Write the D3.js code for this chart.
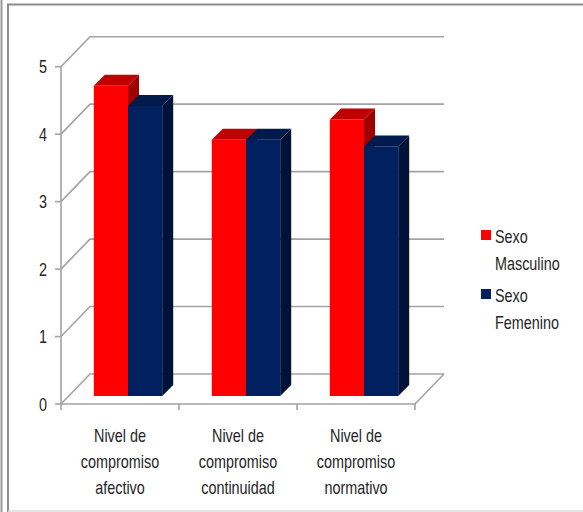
<!DOCTYPE html>
<html>
<head>
<meta charset="utf-8">
<script src="https://cdn.jsdelivr.net/npm/d3@7"></script>
<style>
	body { margin: 0; background: #fff; }
	svg text { font-family: "Liberation Sans", Arial, sans-serif; fill: #262626; }
</style>
</head>
<body>
<div id="chart"></div>
<script>
//////////
// DATA //
//////////
var categories = [
	["Nivel de", "compromiso", "afectivo"],
	["Nivel de", "compromiso", "continuidad"],
	["Nivel de", "compromiso", "normativo"]
];
var seriesNames = ["Sexo Masculino", "Sexo Femenino"];
var masculino = [4.6, 3.8, 4.1];
var femenino = [4.3, 3.8, 3.7];
var yTicks = [0, 1, 2, 3, 4, 5];

/////////////////
// "CONSTANTS" //
/////////////////
var WIDTH = 583;
var HEIGHT = 512;
var AXIS_X0 = 61;
var AXIS_X1 = 415;
var AXIS_Y0 = 404;
var AXIS_Y1 = 66.7;
var DEPTH_X = 29;
var DEPTH_Y = 30;
var BAR_OFF = 8;
var BAR_DEPTH = 11;
var GRID_COLOR = "#a3a3a3";
var FONT_SIZE = 18;
var TEXT_SQUEEZE = 0.8; // narrow, Calibri-like look
var COLORS = [
	{front: "#ff0000", top: "#c00000", side: "#a00000"},
	{front: "#00205f", top: "#001a4c", side: "#001238"}
];

var svg = d3.select("#chart").append("svg")
	.attr("width", WIDTH)
	.attr("height", HEIGHT);

// frame
svg.append("line").attr("x1", 1.5).attr("y1", 0).attr("x2", 1.5).attr("y2", HEIGHT)
	.attr("stroke", "#999").attr("stroke-width", 2);
svg.append("path").attr("d", "M" + WIDTH + ",4.5 H8 V" + HEIGHT)
	.attr("fill", "none").attr("stroke", "#8c8c8c").attr("stroke-width", 2);
svg.append("line").attr("x1", 8).attr("y1", 511).attr("x2", WIDTH).attr("y2", 511)
	.attr("stroke", "#ddd").attr("stroke-width", 1.5);

var y = d3.scaleLinear().domain([0, 5]).range([AXIS_Y0, AXIS_Y1]);
var x = d3.scaleBand().domain(d3.range(categories.length)).range([AXIS_X0, AXIS_X1]);
var xs = d3.scaleBand().domain(d3.range(seriesNames.length)).range([0, x.bandwidth()])
	.paddingInner(0).paddingOuter(0.725);

var grid = svg.append("g")
	.attr("stroke", GRID_COLOR)
	.attr("stroke-width", 1.6)
	.attr("fill", "none");

// back wall + side wall grid
yTicks.forEach(function(t) {
	grid.append("path")
		.attr("d", "M" + AXIS_X0 + "," + y(t) +
			" L" + (AXIS_X0 + DEPTH_X) + "," + (y(t) - DEPTH_Y) +
			" L" + (AXIS_X1 + DEPTH_X) + "," + (y(t) - DEPTH_Y));
});
// floor
grid.append("path")
	.attr("d", "M" + AXIS_X0 + "," + AXIS_Y0 + " L" + AXIS_X1 + "," + AXIS_Y0 +
		" L" + (AXIS_X1 + DEPTH_X) + "," + (AXIS_Y0 - DEPTH_Y));
// value axis
grid.append("line")
	.attr("x1", AXIS_X0).attr("y1", y(5))
	.attr("x2", AXIS_X0).attr("y2", AXIS_Y0);
yTicks.forEach(function(t) {
	grid.append("line")
		.attr("x1", AXIS_X0 - 6).attr("y1", y(t))
		.attr("x2", AXIS_X0).attr("y2", y(t));
});
// category ticks
d3.range(categories.length + 1).forEach(function(i) {
	var tx = AXIS_X0 + i * x.step();
	grid.append("line")
		.attr("x1", tx).attr("y1", AXIS_Y0)
		.attr("x2", tx).attr("y2", AXIS_Y0 + 6);
});

// bars
var poly = function(pts) {
	return pts.map(function(p) { return p.join(","); }).join(" ");
};
var bars = svg.append("g");
categories.forEach(function(c, i) {
	[masculino, femenino].forEach(function(vals, s) {
		var col = COLORS[s];
		var x0 = x(i) + xs(s) + BAR_OFF;
		var x1 = x0 + xs.bandwidth();
		var yb = y(0) - BAR_OFF;
		var yt = y(vals[i]) - BAR_OFF;
		var d = BAR_DEPTH;
		bars.append("polygon")
			.attr("points", poly([[x1, yb], [x1 + d, yb - d], [x1 + d, yt - d], [x1, yt]]))
			.attr("fill", col.side);
		bars.append("polygon")
			.attr("points", poly([[x0, yt], [x0 + d, yt - d], [x1 + d, yt - d], [x1, yt]]))
			.attr("fill", col.top);
		bars.append("rect")
			.attr("x", x0).attr("y", yt)
			.attr("width", xs.bandwidth()).attr("height", yb - yt)
			.attr("fill", col.front);
	});
});

// squeezed text helper
var label = function(parent, px, py, lines, anchor, lineH) {
	var t = parent.append("text")
		.attr("transform", "translate(" + px + "," + py + ") scale(" + TEXT_SQUEEZE + ",1)")
		.attr("text-anchor", anchor)
		.attr("font-size", FONT_SIZE);
	lines.forEach(function(l, j) {
		t.append("tspan")
			.attr("x", 0)
			.attr("y", j * lineH)
			.text(l);
	});
	return t;
};

// y labels
yTicks.forEach(function(t) {
	label(svg, 47, y(t) + 6.5, [String(t)], "end", 0);
});

// category labels
categories.forEach(function(lines, i) {
	label(svg, x(i) + x.bandwidth() / 2, 442, lines, "middle", 26);
});

// legend
var legendTop = [230, 289];
seriesNames.forEach(function(name, s) {
	svg.append("rect")
		.attr("x", 481).attr("y", legendTop[s])
		.attr("width", 10).attr("height", 10)
		.attr("fill", COLORS[s].front);
	label(svg, 495, legendTop[s] + 13, name.split(" "), "start", 27);
});
</script>
</body>
</html>
